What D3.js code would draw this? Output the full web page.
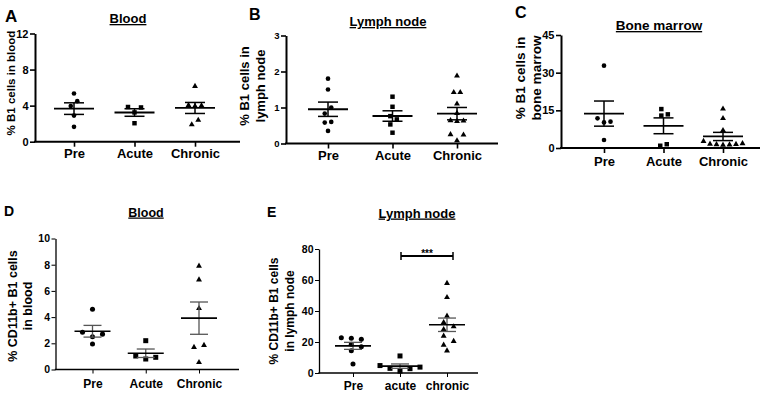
<!DOCTYPE html>
<html>
<head>
<meta charset="utf-8">
<script src="https://cdn.jsdelivr.net/npm/d3@7"></script>
<style>
  body { margin: 0; background: #fff; }
  svg { display: block; font-family: Arial, "Liberation Sans", sans-serif; font-weight: bold; }
</style>
</head>
<body>
<svg id="chart" width="767" height="394"></svg>
<script>
// group names
const groupsUpper = ["Pre", "Acute", "Chronic"];
const groupsLower = ["Pre", "acute", "chronic"];

// A - % B1 cells in blood
const bloodB1Pre = [5.35, 4.5, 3.95, 2.9, 1.65];
const bloodB1Acute = [3.85, 3.8, 3.25, 2.05];
const bloodB1Chronic = [6.15, 4.05, 4.0, 3.95, 2.4, 1.9];
const ticksA = [0, 4, 8, 12];

// B - % B1 cells in lymph node
const lnB1Pre = [1.8, 1.5, 1.0, 0.83, 0.6, 0.58, 0.35];
const lnB1Acute = [1.3, 1.02, 0.76, 0.67, 0.53, 0.3];
const lnB1Chronic = [1.88, 1.42, 1.42, 1.1, 0.84, 0.64, 0.63, 0.62, 0.25, 0.24, 0.08];
const ticksB = [0, 1, 2, 3];

// C - % B1 cells in bone marrow
const bmB1Pre = [32.8, 11.8, 10.5, 10.2, 3.2];
const bmB1Acute = [15.5, 13.4, 12.9, 1.5, 0.9];
const bmB1Chronic = [15.6, 11.8, 7.0, 2.7, 1.8, 1.6, 1.5, 1.4, 1.3, 1.2];
const ticksC = [0, 15, 30, 45];

// D - % CD11b+ B1 cells in blood
const bloodCdPre = [4.6, 2.85, 2.7, 2.5, 1.95];
const bloodCdAcute = [2.2, 1.03, 0.93, 0.8];
const bloodCdChronic = [7.9, 6.85, 4.67, 1.85, 1.7, 0.55];
const ticksD = [0, 2, 4, 6, 8, 10];

// E - % CD11b+ B1 cells in lymph node
const lnCdPre = [22.8, 22.4, 21.7, 18.5, 17.0, 14.4, 5.8];
const lnCdAcute = [11.0, 4.8, 3.8, 3.0, 2.8, 1.2];
const lnCdChronic = [57.9, 48.8, 36.8, 32.7, 29.9, 28.2, 23.9, 20.5, 18.1, 14.4];
const ticksE = [0, 20, 40, 60, 80];
const sigLevel = 75.5;
const sigLabel = "***";

const symbols = [d3.symbolCircle, d3.symbolSquare, d3.symbolTriangle];

// two looks: top row (older prism style) and bottom row
const topStyle = {
    axisW: 2, tick: 5, yTickFont: 11, xTickFont: 13, sym: [17, 20, 15],
    s: 6.5, thr: 6.4, meanHalf: 20, semHalf: 10, meanW: 1.8, semW: 1.5, semColor: "#000"
};
const botStyle = {
    axisW: 1.3, tick: 4, yTickFont: 10.5, xTickFont: 12, sym: [20, 25, 15],
    s: 10, thr: 5.6, meanHalf: 18, semHalf: 9, meanW: 1.6, semW: 1.3, semColor: "#555"
};

const panels = [
    Object.assign({}, topStyle, {
        letter: "A", lx: 5, ly: 22, lsize: 17,
        title: "Blood", tx: 128, ty: 23, tsize: 13,
        ylab: ["% B1 cells in blood"], ylabX: [15], ylabY: 83, ylabSize: 11.5,
        axisX: 35, axisEnd: 240, yTop: 33.5, yBottom: 141.7, xRange: [74, 195], xPad: 2,
        cats: groupsUpper, data: [bloodB1Pre, bloodB1Acute, bloodB1Chronic], yMax: 12, ticks: ticksA
    }),
    Object.assign({}, topStyle, {
        letter: "B", lx: 249, ly: 20, lsize: 16,
        title: "Lymph node", tx: 388, ty: 26, tsize: 13,
        ylab: ["% B1 cells in", "lymph node"], ylabX: [249, 265], ylabY: 86, ylabSize: 13,
        axisX: 286, axisEnd: 498, yTop: 35.5, yBottom: 143.5, xRange: [328, 457], xPad: 2.3,
        yTickFont: 9.5,
        cats: groupsUpper, data: [lnB1Pre, lnB1Acute, lnB1Chronic], yMax: 3, ticks: ticksB
    }),
    Object.assign({}, topStyle, {
        letter: "C", lx: 515, ly: 18, lsize: 16,
        title: "Bone marrow", tx: 659, ty: 30, tsize: 13.5,
        ylab: ["% B1 cells in", "bone marrow"], ylabX: [525, 541], ylabY: 78, ylabSize: 13.5,
        axisX: 561, axisEnd: 760, yTop: 35, yBottom: 148, xRange: [604, 723], xPad: 3.5,
        yTickFont: 11,
        cats: groupsUpper, data: [bmB1Pre, bmB1Acute, bmB1Chronic], yMax: 45, ticks: ticksC
    }),
    Object.assign({}, botStyle, {
        letter: "D", lx: 4, ly: 216, lsize: 14,
        title: "Blood", tx: 146, ty: 216.5, tsize: 12.5,
        ylab: ["% CD11b+ B1 cells", "in blood"], ylabX: [16.5, 31.5], ylabY: 306, ylabSize: 12.5,
        axisX: 55.5, axisEnd: 239, yTop: 238.5, yBottom: 369.5, xRange: [92.5, 199], xPad: 6.3,
        cats: groupsUpper, data: [bloodCdPre, bloodCdAcute, bloodCdChronic], yMax: 10, ticks: ticksD
    }),
    Object.assign({}, botStyle, {
        letter: "E", lx: 267, ly: 217, lsize: 14,
        title: "Lymph node", tx: 417, ty: 217.5, tsize: 13,
        ylab: ["% CD11b+ B1 cells", "in lymph node"], ylabX: [278, 294], ylabY: 311, ylabSize: 12,
        axisX: 319, axisEnd: 478, yTop: 249, yBottom: 373, xRange: [353, 447], xPad: 4.5,
        cats: groupsLower, data: [lnCdPre, lnCdAcute, lnCdChronic], yMax: 80, ticks: ticksE,
        sig: true
    })
];

const svg = d3.select("#chart");

// spread points that would overlap, a bit like prism does it
function spread(values, y, s, thr) {
    const pts = values.map(v => ({v: v, py: y(v), k: 0, dx: 0}))
        .sort((a, b) => a.v - b.v);
    const order = [0];
    for (let i = 1; i < 12; i++) order.push(i, -i);
    const parent = pts.map((d, i) => i);
    const find = i => parent[i] === i ? i : (parent[i] = find(parent[i]));

    pts.forEach(function (p, i) {
        const before = pts.slice(0, i);
        for (const k of order) {
            const hit = before.some(q => q.k === k && Math.abs(q.py - p.py) < thr);
            if (!hit) { p.k = k; break; }
        }
        before.forEach(function (q, j) {
            if (Math.abs(q.py - p.py) < thr) parent[find(j)] = find(i);
        });
    });

    const clusters = d3.group(pts.map((p, i) => ({root: find(i), p: p})), d => d.root);
    clusters.forEach(function (list) {
        const m = d3.mean(list, d => d.p.k);
        list.forEach(d => d.p.dx = (d.p.k - m) * s);
    });
    return pts;
}

panels.forEach(function (p) {
    const g = svg.append("g");

    const x = d3.scalePoint().domain(p.cats).range(p.xRange);
    const y = d3.scaleLinear().domain([0, p.yMax]).range([p.yBottom, p.yTop]);

    // panel letter + title
    g.append("text")
        .attr("x", p.lx).attr("y", p.ly)
        .attr("font-size", p.lsize)
        .text(p.letter);

    g.append("text")
        .attr("x", p.tx).attr("y", p.ty)
        .attr("text-anchor", "middle")
        .attr("font-size", p.tsize)
        .style("text-decoration", "underline")
        .text(p.title);

    // y label (one or two lines)
    p.ylab.forEach(function (line, i) {
        g.append("text")
            .attr("transform", "translate(" + p.ylabX[i] + "," + p.ylabY + ") rotate(-90)")
            .attr("text-anchor", "middle")
            .attr("font-size", p.ylabSize)
            .text(line);
    });

    // y axis
    const yAxis = g.append("g")
        .attr("transform", "translate(" + p.axisX + ",0)")
        .call(d3.axisLeft(y).tickValues(p.ticks).tickFormat(d3.format("d"))
            .tickSize(p.tick).tickSizeOuter(0).tickPadding(1.5));
    yAxis.attr("font-family", null).attr("font-size", p.yTickFont);
    yAxis.select(".domain").attr("stroke-width", p.axisW);
    yAxis.selectAll(".tick line").attr("stroke-width", p.axisW * 0.8);
    yAxis.selectAll(".tick text").attr("fill", "#000");

    // x axis
    const xAxis = g.append("g")
        .attr("transform", "translate(0," + p.yBottom + ")")
        .call(d3.axisBottom(x).tickSize(p.tick).tickSizeOuter(0).tickPadding(p.xPad));
    xAxis.attr("font-family", null).attr("font-size", p.xTickFont);
    xAxis.select(".domain").remove();
    xAxis.selectAll(".tick line").attr("stroke-width", p.axisW * 0.8);
    xAxis.selectAll(".tick text").attr("fill", "#000");

    g.append("line")
        .attr("x1", p.axisX - p.axisW / 2).attr("x2", p.axisEnd)
        .attr("y1", p.yBottom).attr("y2", p.yBottom)
        .attr("stroke", "#000")
        .attr("stroke-width", p.axisW);

    // points, mean and sem for each group
    p.data.forEach(function (vals, gi) {
        const cx = x(p.cats[gi]);
        const pts = spread(vals, y, p.s, p.thr);

        g.selectAll(null)
            .data(pts)
            .join("path")
            .attr("d", d3.symbol().type(symbols[gi]).size(p.sym[gi]))
            .attr("transform", d => "translate(" + (cx + d.dx) + "," + d.py + ")")
            .attr("fill", "#000");

        const m = d3.mean(vals);
        const sem = d3.deviation(vals) / Math.sqrt(vals.length);

        g.append("line")
            .attr("x1", cx).attr("x2", cx)
            .attr("y1", y(m + sem)).attr("y2", y(m - sem))
            .attr("stroke", p.semColor).attr("stroke-width", p.semW);

        [m + sem, m - sem].forEach(function (v) {
            g.append("line")
                .attr("x1", cx - p.semHalf).attr("x2", cx + p.semHalf)
                .attr("y1", y(v)).attr("y2", y(v))
                .attr("stroke", p.semColor).attr("stroke-width", p.semW);
        });

        g.append("line")
            .attr("x1", cx - p.meanHalf).attr("x2", cx + p.meanHalf)
            .attr("y1", y(m)).attr("y2", y(m))
            .attr("stroke", "#000").attr("stroke-width", p.meanW);
    });

    // significance bracket acute vs chronic
    if (p.sig) {
        const x1 = x(p.cats[1]) + 1, x2 = x(p.cats[2]) + 6;
        const yy = y(sigLevel);
        g.append("line")
            .attr("x1", x1).attr("x2", x2).attr("y1", yy).attr("y2", yy)
            .attr("stroke", "#000").attr("stroke-width", 2);
        [x1, x2].forEach(function (xx) {
            g.append("line")
                .attr("x1", xx).attr("x2", xx).attr("y1", yy - 4).attr("y2", yy + 4)
                .attr("stroke", "#000").attr("stroke-width", 1.5);
        });
        g.append("text")
            .attr("x", (x1 + x2) / 2).attr("y", yy + 1)
            .attr("text-anchor", "middle")
            .attr("font-size", 10)
            .text(sigLabel);
    }
});
</script>
</body>
</html>
